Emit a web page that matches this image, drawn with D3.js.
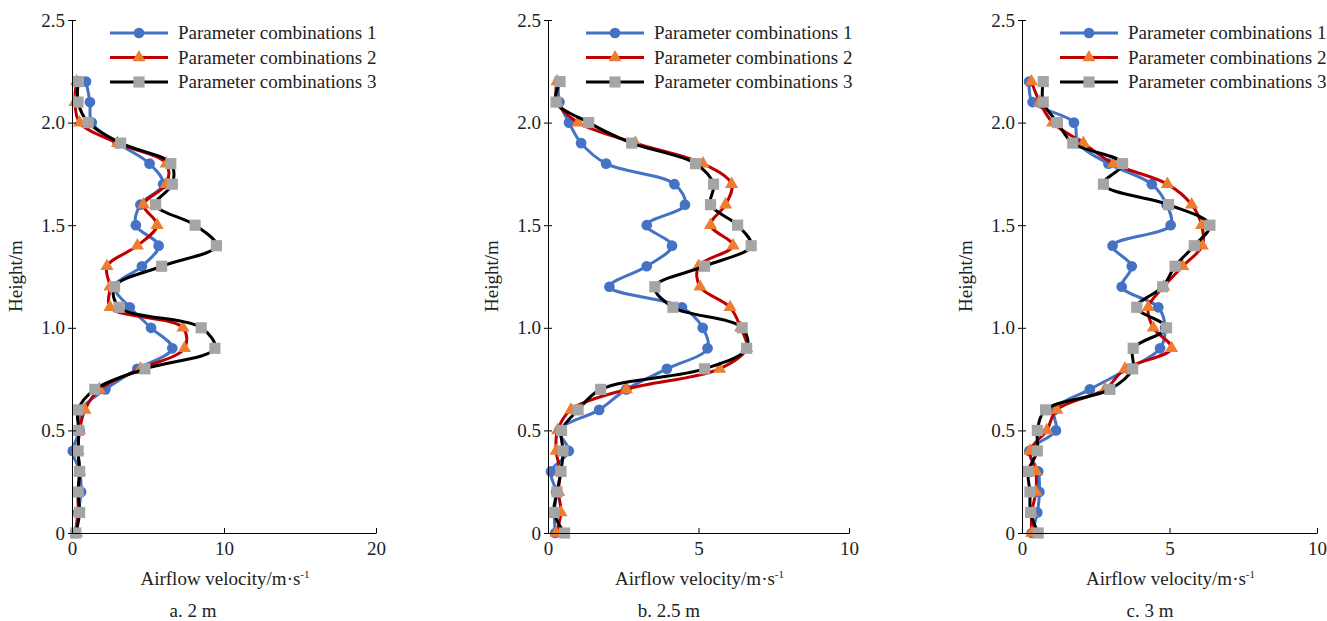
<!DOCTYPE html>
<html>
<head>
<meta charset="utf-8">
<script src="https://cdn.jsdelivr.net/npm/d3@7"></script>
<style>
  body { margin: 0; background: #fff; }
  svg text { font-family: "Liberation Serif", "Times New Roman", serif; fill: #222; }
</style>
</head>
<body>
<svg id="chart" width="1327" height="621"></svg>
<script>
// heights (m) shared by every profile
const heights = [0, 0.1, 0.2, 0.3, 0.4, 0.5, 0.6, 0.7, 0.8, 0.9, 1.0, 1.1,
                 1.2, 1.3, 1.4, 1.5, 1.6, 1.7, 1.8, 1.9, 2.0, 2.1, 2.2];

const seriesNames = ["Parameter combinations 1", "Parameter combinations 2", "Parameter combinations 3"];
const yTicks = [0, 0.5, 1.0, 1.5, 2.0, 2.5];

// a. 2 m
const a1 = [0.2, 0.4, 0.6, 0.5, 0.05, 0.5, 0.6, 2.2, 4.3, 6.6, 5.2, 3.8, 2.8, 4.6, 5.7, 4.2, 4.5, 6.0, 5.1, 3.0, 1.3, 1.18, 0.92];
const a2 = [0.3, 0.4, 0.4, 0.5, 0.4, 0.5, 0.85, 1.8, 4.5, 7.4, 7.3, 2.5, 2.5, 2.3, 4.3, 5.6, 4.7, 6.2, 6.2, 3.0, 0.5, 0.2, 0.3];
const a3 = [0.25, 0.5, 0.4, 0.5, 0.4, 0.45, 0.4, 1.5, 4.8, 9.4, 8.5, 3.1, 2.8, 5.9, 9.5, 8.1, 5.5, 6.6, 6.5, 3.2, 1.07, 0.4, 0.42];
const aTicks = [0, 10, 20];

// b. 2.5 m
const b1 = [0.24, 0.21, 0.27, 0.1, 0.69, 0.38, 1.7, 2.6, 3.95, 5.3, 5.14, 4.45, 2.04, 3.28, 4.12, 3.28, 4.55, 4.2, 1.93, 1.1, 0.7, 0.38, 0.35];
const b2 = [0.27, 0.43, 0.35, 0.4, 0.27, 0.32, 0.76, 2.6, 5.7, 6.6, 6.4, 6.05, 5.05, 5.0, 6.15, 5.4, 5.9, 6.1, 5.15, 2.9, 1.0, 0.3, 0.3];
const b3 = [0.55, 0.2, 0.3, 0.43, 0.5, 0.45, 1.0, 1.75, 5.2, 6.6, 6.45, 4.15, 3.55, 5.2, 6.75, 6.3, 5.4, 5.5, 4.9, 2.78, 1.35, 0.27, 0.4];
const bTicks = [0, 5, 10];

// c. 3 m
const c1 = [0.33, 0.52, 0.59, 0.55, 0.25, 1.15, 1.1, 2.3, 3.6, 4.68, 4.85, 4.62, 3.38, 3.72, 3.07, 5.04, 4.9, 4.4, 2.93, 1.9, 1.76, 0.36, 0.24];
const c2 = [0.33, 0.33, 0.47, 0.47, 0.27, 0.84, 1.18, 2.81, 3.49, 5.07, 4.45, 4.28, 4.8, 5.45, 6.11, 6.09, 5.75, 4.93, 3.1, 2.08, 1.04, 0.6, 0.32];
const c3 = [0.55, 0.29, 0.27, 0.21, 0.52, 0.52, 0.8, 2.98, 3.75, 3.77, 4.9, 3.89, 4.77, 5.19, 5.84, 6.37, 4.97, 2.76, 3.41, 1.72, 1.2, 0.72, 0.72];
const cTicks = [0, 5, 10];

const panels = [
  { left: 72,   right: 376,  xMax: 20, ticks: aTicks, caption: "a. 2 m",   captionX: 193,  data: [a1, a2, a3] },
  { left: 548,  right: 849,  xMax: 10, ticks: bTicks, caption: "b. 2.5 m", captionX: 669,  data: [b1, b2, b3] },
  { left: 1022, right: 1317, xMax: 10, ticks: cTicks, caption: "c. 3 m",   captionX: 1150, data: [c1, c2, c3] }
];

const styles = [
  { line: "#4472c4", fill: "#4472c4", shape: d3.symbolCircle,   size: 90 },
  { line: "#c00000", fill: "#ed7d31", shape: d3.symbolTriangle, size: 75 },
  { line: "#000000", fill: "#a5a5a5", shape: d3.symbolSquare,   size: 125 }
];

const plotTop = 20, plotBottom = 533;
const svg = d3.select("#chart");

panels.forEach(p => {
  const g = svg.append("g");
  const x = d3.scaleLinear().domain([0, p.xMax]).range([p.left, p.right]);
  const y = d3.scaleLinear().domain([0, 2.5]).range([plotBottom, plotTop]);

  // smoothed lines, each series drawn with its own markers on top
  const line = d3.line()
    .x(d => x(d[0]))
    .y(d => y(d[1]))
    .curve(d3.curveCatmullRom.alpha(0.5));

  p.data.forEach((vals, i) => {
    const pts = vals.map((v, k) => [v, heights[k]]);
    g.append("path")
      .attr("d", line(pts))
      .attr("fill", "none")
      .attr("stroke", styles[i].line)
      .attr("stroke-width", 3);
    g.selectAll(null)
      .data(pts)
      .enter().append("path")
      .attr("transform", d => `translate(${x(d[0])},${y(d[1])})`)
      .attr("d", d3.symbol().type(styles[i].shape).size(styles[i].size))
      .attr("fill", styles[i].fill);
  });

  // y axis
  const yAxis = g.append("g")
    .attr("transform", `translate(${p.left},0)`)
    .call(d3.axisLeft(y).tickValues(yTicks)
      .tickFormat(d => d === 0 ? "0" : d.toFixed(1))
      .tickSize(4).tickSizeOuter(0).tickPadding(3));
  yAxis.selectAll(".tick line").attr("x1", 4);
  yAxis.select(".domain").attr("stroke", "#000");
  yAxis.selectAll("text").style("font-size", "19px").attr("fill", "#222");

  // x axis with ticks pointing up
  const xAxis = g.append("g")
    .attr("transform", `translate(0,${plotBottom})`)
    .call(d3.axisBottom(x).tickValues(p.ticks)
      .tickSize(-5).tickSizeOuter(0).tickPadding(9));
  xAxis.select(".domain").attr("stroke", "#000");
  xAxis.selectAll("text").style("font-size", "19px").attr("fill", "#222");

  // axis titles
  const xt = g.append("text")
    .attr("x", (p.left + p.right) / 2 + 1)
    .attr("y", 585)
    .attr("text-anchor", "middle")
    .style("font-size", "19px");
  xt.append("tspan").text("Airflow velocity/m·s");
  xt.append("tspan").attr("dy", -7).style("font-size", "11px").text("-1");

  g.append("text")
    .attr("transform", `translate(${p.left - 50},276) rotate(-90)`)
    .attr("text-anchor", "middle")
    .style("font-size", "19px")
    .text("Height/m");

  g.append("text")
    .attr("x", p.captionX)
    .attr("y", 617)
    .attr("text-anchor", "middle")
    .style("font-size", "19px")
    .text(p.caption);

  // legend
  const lx = p.left + 38;
  seriesNames.forEach((name, i) => {
    const ly = 33 + i * 24.5;
    g.append("line")
      .attr("x1", lx).attr("x2", lx + 58)
      .attr("y1", ly).attr("y2", ly)
      .attr("stroke", styles[i].line).attr("stroke-width", 3);
    g.append("path")
      .attr("transform", `translate(${lx + 29},${ly})`)
      .attr("d", d3.symbol().type(styles[i].shape).size(styles[i].size))
      .attr("fill", styles[i].fill);
    g.append("text")
      .attr("x", lx + 68)
      .attr("y", ly + 6)
      .style("font-size", "19px")
      .text(name);
  });
});
</script>
</body>
</html>
